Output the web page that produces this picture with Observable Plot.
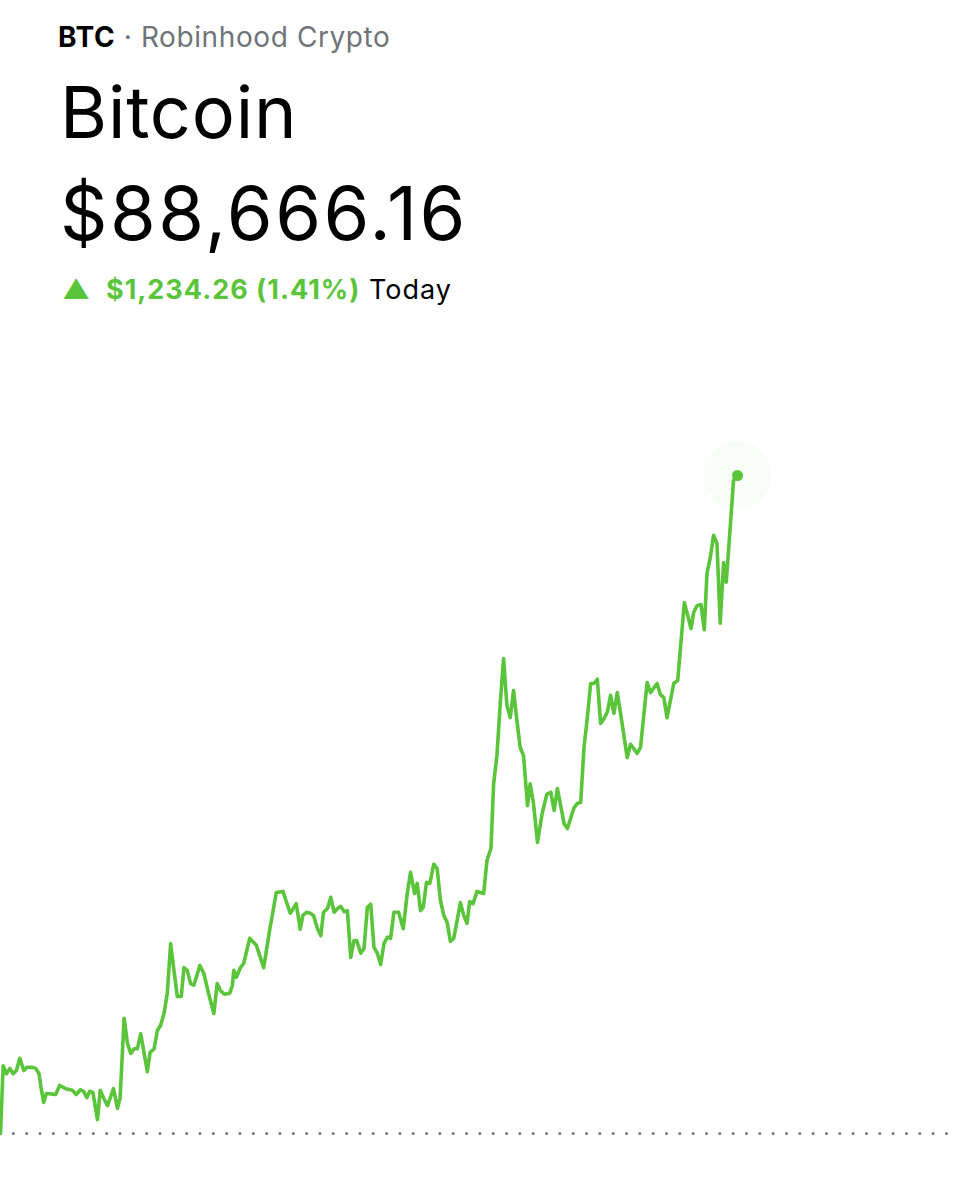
<!DOCTYPE html>
<html><head><meta charset="utf-8">
<script src="https://cdn.jsdelivr.net/npm/d3@7"></script>
<script src="https://cdn.jsdelivr.net/npm/@observablehq/plot@0.6"></script>
<style>
body{margin:0;background:#fff;font-family:Inter,"Liberation Sans",sans-serif;color:#000}
#page{position:relative;width:957px;height:1200px;overflow:hidden;background:#fff}
.t{position:absolute;left:58px;white-space:nowrap;line-height:1}
#sub{top:23px;font-size:28px;letter-spacing:0.6px}
#sub b{font-weight:700}
#sub span{color:#6f7479}
#name{top:76px;left:60px;font-size:72px;letter-spacing:0.8px}
#price{top:176px;left:60px;font-size:74px;letter-spacing:2.5px}
#chg{top:276px;left:62px;font-size:27px;letter-spacing:1px}
#chg .g{color:#5ac53b;font-weight:700}
#chart{position:absolute;left:0;top:340px}
</style></head><body>
<div id="page">
  <div class="t" id="sub"></div>
  <div class="t" id="name"></div>
  <div class="t" id="price"></div>
  <div class="t" id="chg"></div>
  <div id="chart"></div>
</div>
<script>
const ticker = "BTC";
const venue = "Robinhood Crypto";
const assetName = "Bitcoin";
const lastPrice = 88666.16;
const dayChange = 1234.26;
const dayChangePct = 1.41;
const periodLabel = "Today";
const previousClose = 87431.90;

// minutes since midnight
const minutes = [0,4,9,14,19,24,29,35,40,48,53,58,61,65,69,83,89,98,108,114,120,125,130,134,139,146,150,155,161,170,176,180,186,191,196,201,206,211,221,225,231,236,241,246,251,256,261,266,272,276,281,286,291,300,306,313,321,326,331,337,345,349,351,355,361,366,375,385,396,405,415,425,436,445,451,455,461,466,471,477,482,486,492,497,502,507,512,517,522,527,532,536,542,547,552,557,562,567,572,577,582,587,592,599,606,612,617,623,627,632,636,641,646,652,657,662,667,672,677,682,687,692,697,702,706,711,717,727,732,738,742,747,752,757,762,767,772,777,782,787,793,797,802,808,815,822,828,833,838,848,853,863,868,873,878,883,888,893,898,903,908,913,918,923,928,933,943,948,958,963,973,978,988,993,998,1003,1013,1019,1029,1033,1039,1043,1048,1054,1059,1063,1068,1073,1078,1083,1088,1092,1098,1103,1109];
const prices = [87431.90,87559,87544,87554,87544,87550,87573,87550,87556,87556,87554,87544,87518,87490,87507,87505,87522,87516,87513,87505,87514,87511,87499,87511,87509,87458,87513,87499,87484,87516,87479,87499,87648,87601,87582,87591,87591,87619,87548,87584,87590,87625,87635,87657,87695,87788,87738,87689,87689,87743,87738,87713,87710,87747,87732,87695,87657,87713,87700,87693,87695,87710,87738,87725,87743,87751,87798,87785,87743,87813,87884,87886,87845,87863,87815,87841,87847,87845,87841,87816,87803,87847,87854,87875,87847,87854,87858,87848,87850,87762,87794,87794,87770,87779,87856,87862,87781,87770,87749,87788,87800,87798,87847,87847,87816,87882,87922,87882,87901,87850,87856,87903,87901,87937,87929,87869,87841,87828,87792,87798,87831,87865,87841,87826,87867,87863,87886,87882,87944,87967,88088,88141,88239,88323,88235,88212,88263,88207,88156,88141,88047,88088,88051,87978,88032,88068,88072,88038,88079,88013,88004,88043,88051,88053,88156,88212,88276,88276,88284,88201,88210,88222,88254,88220,88259,88220,88137,88162,88145,88156,88278,88259,88276,88255,88250,88212,88276,88282,88428,88409,88379,88409,88422,88424,88377,88482,88512,88554,88539,88389,88503,88466,88569,88657,88666.16];

const fmt = d3.format(",.2f");
document.getElementById("sub").innerHTML = `<b>${ticker}</b><span> · ${venue}</span>`;
document.getElementById("name").textContent = assetName;
document.getElementById("price").textContent = "$" + fmt(lastPrice);
document.getElementById("chg").innerHTML = `<span class="g">▲&nbsp; $${fmt(dayChange)} (${dayChangePct.toFixed(2)}%)</span> ${periodLabel}`;

const data = minutes.map((t, i) => ({t, p: prices[i]}));
const last = data[data.length - 1];
const green = "#5ac53b";

const chart = Plot.plot({
  width: 957,
  height: 860,
  marginLeft: 0,
  marginRight: 0,
  marginTop: 135,
  marginBottom: 67,
  x: {domain: [0, 1440], axis: null},
  y: {domain: [previousClose, lastPrice], axis: null},
  marks: [
    Plot.ruleY([previousClose], {stroke: "#777", strokeWidth: 3, strokeDasharray: "0 13.33", strokeLinecap: "round"}),
    Plot.line(data, {x: "t", y: "p", stroke: green, strokeWidth: 3.6, strokeLinejoin: "round", strokeLinecap: "round"}),
    Plot.dot([last], {x: "t", y: "p", r: 34, fill: green, fillOpacity: 0.04}),
    Plot.dot([last], {x: "t", y: "p", r: 5.5, fill: green})
  ]
});
document.getElementById("chart").appendChild(chart);
</script>
</body></html>
